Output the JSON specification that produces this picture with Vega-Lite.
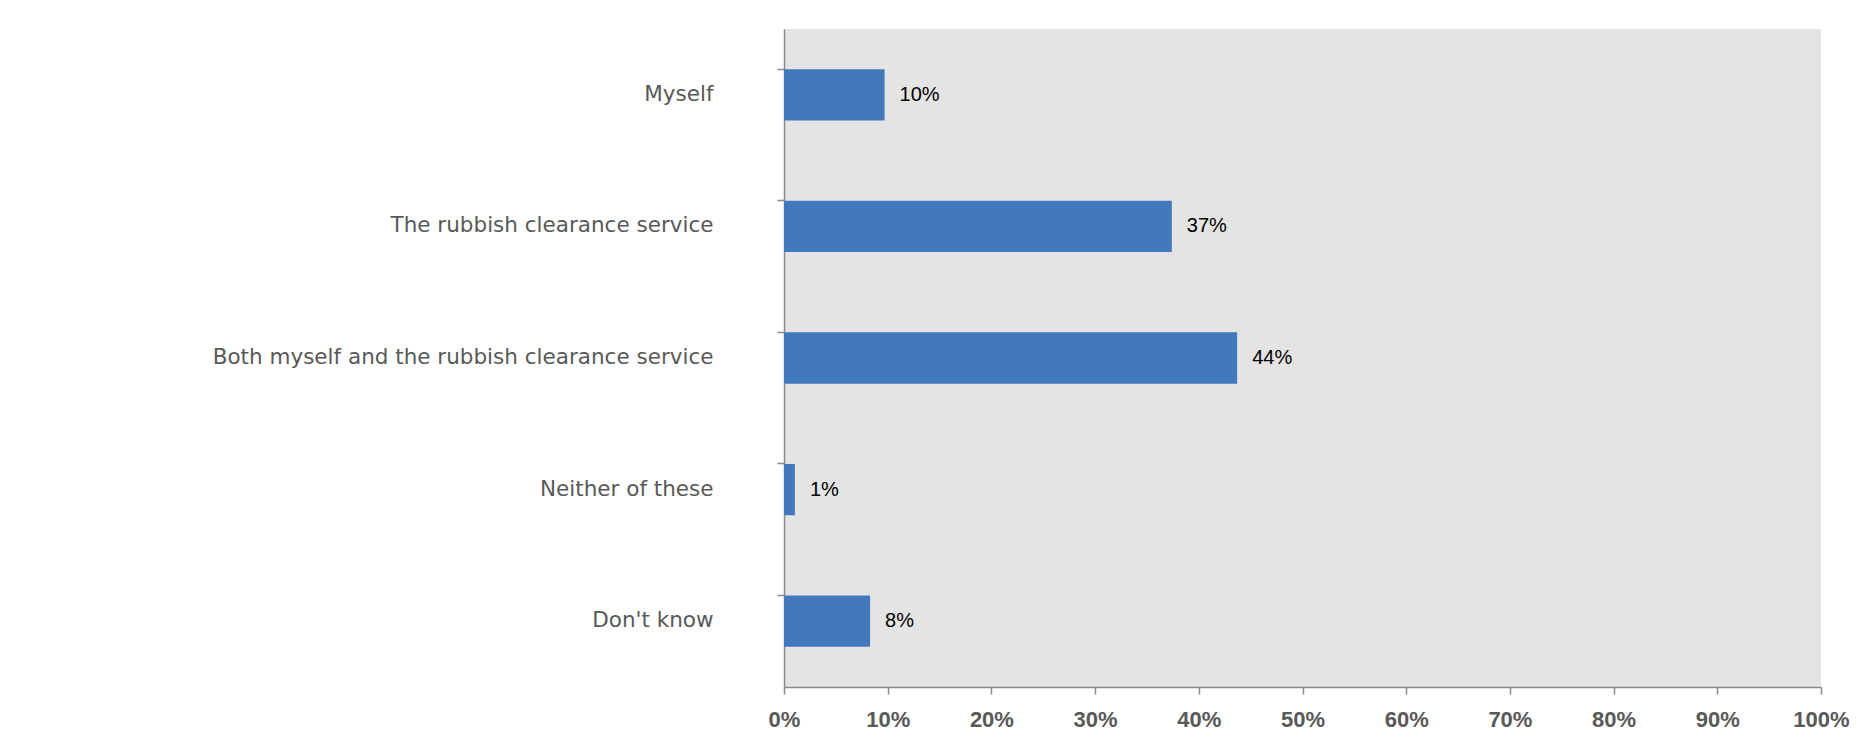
{
  "$schema": "https://vega.github.io/schema/vega-lite/v6.json",
  "autosize": "none",
  "width": 1037,
  "height": 658,
  "padding": {"left": 784, "top": 29, "right": 48, "bottom": 48},
  "background": "white",
  "config": {
    "view": {"fill": "#e4e4e4", "stroke": null},
    "font": "Liberation Sans"
  },
  "data": {
    "values": [
      {"answer": "Myself", "share": 0.097},
      {"answer": "The rubbish clearance service", "share": 0.374},
      {"answer": "Both myself and the rubbish clearance service", "share": 0.437},
      {"answer": "Neither of these", "share": 0.0105},
      {"answer": "Don't know", "share": 0.083}
    ]
  },
  "encoding": {
    "y": {
      "field": "answer",
      "type": "nominal",
      "sort": null,
      "scale": {"paddingInner": 0.61, "paddingOuter": 0.305},
      "axis": {
        "title": null,
        "bandPosition": 0,
        "domainColor": "#8a8a8a",
        "domainWidth": 1.5,
        "tickColor": "#8a8a8a",
        "tickWidth": 1.5,
        "tickSize": 7,
        "labelPadding": 64,
        "labelLimit": 0,
        "labelFont": "DejaVu Sans",
        "labelFontSize": 21.5,
        "labelColor": "#595959",
        "grid": false
      }
    },
    "x": {
      "field": "share",
      "type": "quantitative",
      "scale": {"domain": [0, 1], "nice": false},
      "axis": {
        "title": null,
        "format": ".0%",
        "values": [0, 0.1, 0.2, 0.3, 0.4, 0.5, 0.6, 0.7, 0.8, 0.9, 1],
        "grid": false,
        "domainColor": "#8a8a8a",
        "domainWidth": 1.5,
        "tickColor": "#8a8a8a",
        "tickWidth": 1.5,
        "tickSize": 7,
        "labelPadding": 15,
        "labelFont": "Liberation Sans",
        "labelFontSize": 22,
        "labelFontWeight": "bold",
        "labelColor": "#595959",
        "labelFlush": false
      }
    }
  },
  "layer": [
    {"mark": {"type": "bar", "color": "#4279bd"}},
    {
      "mark": {"type": "text", "align": "left", "baseline": "middle", "dx": 15, "fontSize": 20, "color": "#000000", "font": "Liberation Sans"},
      "encoding": {"text": {"field": "share", "type": "quantitative", "format": ".0%"}}
    }
  ]
}
